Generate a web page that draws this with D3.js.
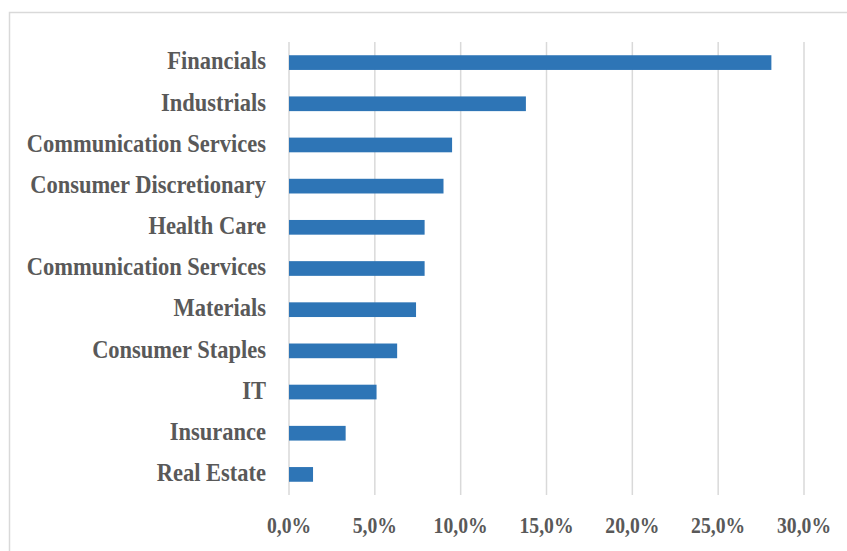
<!DOCTYPE html>
<html>
<head>
<meta charset="utf-8">
<script src="https://cdn.jsdelivr.net/npm/d3@7"></script>
<style>
  html, body { margin: 0; padding: 0; background: #fff; }
  svg { display: block; }
</style>
</head>
<body>
<svg id="chart" width="847" height="551"></svg>
<script>
const categories = ["Financials", "Industrials", "Communication Services", "Consumer Discretionary",
  "Health Care", "Communication Services ", "Materials", "Consumer Staples", "IT", "Insurance", "Real Estate"];
const values = [28.1, 13.8, 9.5, 9.0, 7.9, 7.9, 7.4, 6.3, 5.1, 3.3, 1.4];
const tickValues = [0, 5, 10, 15, 20, 25, 30];
const tickLabels = ["0,0%", "5,0%", "10,0%", "15,0%", "20,0%", "25,0%", "30,0%"];

const svg = d3.select("#chart");
const FONT = "'Liberation Serif', 'DejaVu Serif', serif";
const textColor = "#595959";

// outer chart border
svg.append("rect").attr("x", 9.5).attr("y", 12.5).attr("width", 860).attr("height", 560)
  .attr("fill", "none").attr("stroke", "#d9d9d9").attr("stroke-width", 1.5);

const x = d3.scaleLinear().domain([0, 30]).range([289, 804]);
const y = d3.scaleBand().domain(categories).range([42, 495]).paddingInner(0.643).paddingOuter(0.3215);

// gridlines
svg.append("g").selectAll("line").data(tickValues).join("line")
  .attr("x1", d => x(d)).attr("x2", d => x(d))
  .attr("y1", 42).attr("y2", 495)
  .attr("stroke", "#d9d9d9").attr("stroke-width", 1.5);

// bars
svg.append("g").selectAll("rect").data(values).join("rect")
  .attr("x", x(0)).attr("y", (d, i) => y(categories[i]))
  .attr("width", d => x(d) - x(0)).attr("height", y.bandwidth())
  .attr("fill", "#2E75B6");

// category labels (condensed bold serif)
const sx = 0.9;
svg.append("g").selectAll("text").data(categories).join("text")
  .attr("transform", d => `translate(266,${y(d) + y.bandwidth() / 2}) scale(${sx},1)`)
  .attr("text-anchor", "end").attr("dy", "0.27em")
  .attr("font-family", FONT).attr("font-weight", "bold").attr("font-size", 25)
  .attr("fill", textColor)
  .text(d => d.trim());

// x tick labels
svg.append("g").selectAll("text").data(tickValues).join("text")
  .attr("transform", d => `translate(${x(d)},525) scale(0.82,1)`)
  .attr("text-anchor", "middle").attr("dy", "0.33em")
  .attr("font-family", FONT).attr("font-weight", "bold").attr("font-size", 24)
  .attr("fill", textColor)
  .text((d, i) => tickLabels[i]);
</script>
</body>
</html>
